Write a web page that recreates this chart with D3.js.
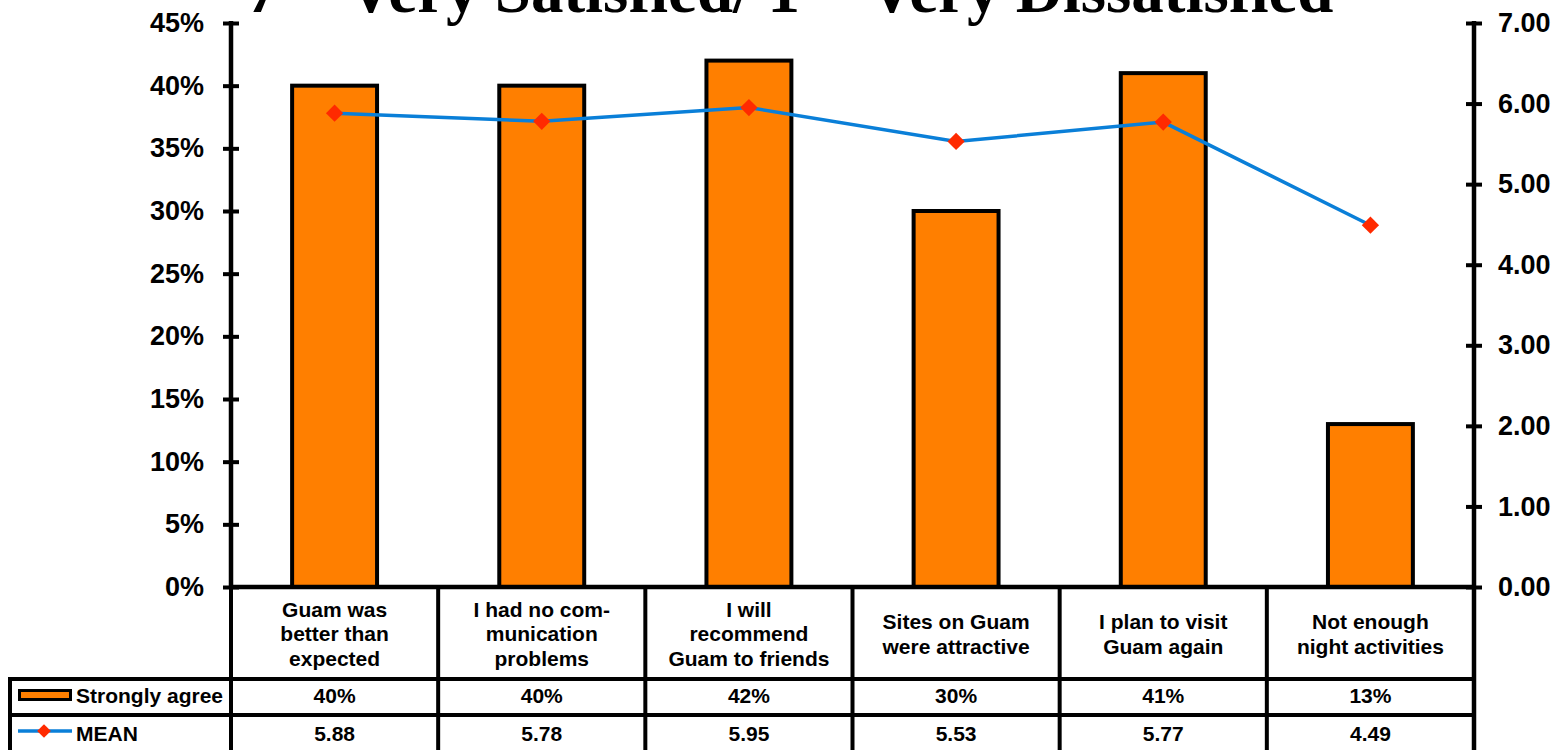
<!DOCTYPE html>
<html>
<head>
<meta charset="utf-8">
<script src="https://cdn.jsdelivr.net/npm/d3@7"></script>
<style>
  body { margin: 0; background: #fff; }
  svg { display: block; }
</style>
</head>
<body>
<svg id="drawing_region"></svg>
<script>
// chart data
const categories = [
    ["Guam was", "better than", "expected"],
    ["I had no com-", "munication", "problems"],
    ["I will", "recommend", "Guam to friends"],
    ["Sites on Guam", "were attractive"],
    ["I plan to visit", "Guam again"],
    ["Not enough", "night activities"]
];
const strongly_agree = [0.40, 0.40, 0.42, 0.30, 0.41, 0.13];
const mean_values = [5.88, 5.78, 5.95, 5.53, 5.77, 4.49];
const left_ticks = [0, 0.05, 0.10, 0.15, 0.20, 0.25, 0.30, 0.35, 0.40, 0.45];
const right_ticks = [0, 1, 2, 3, 4, 5, 6, 7];
const title_text = "7 = Very Satisfied/ 1 = Very Dissatisfied";

const config = {
    width: 1564,
    height: 750,
    left: 231,
    right: 1474,
    top: 23,
    bottom: 587
};

const svg = d3.select('#drawing_region')
    .attr('width', config.width)
    .attr('height', config.height);

const xscale = d3.scaleBand()
    .domain(d3.range(categories.length))
    .range([config.left, config.right])
    .paddingInner(0.59)
    .paddingOuter(0.295);
const band = d3.scaleBand()
    .domain(d3.range(categories.length))
    .range([config.left, config.right]);

const yleft = d3.scaleLinear().domain([0, 0.45]).range([config.bottom, config.top]);
const yright = d3.scaleLinear().domain([0, 7]).range([config.bottom, config.top]);

// title (cut off at the top like the original)
svg.append('text')
    .attr('x', 790)
    .attr('y', 12)
    .attr('text-anchor', 'middle')
    .attr('font-family', '"Liberation Serif", "Times New Roman", serif')
    .attr('font-weight', 'bold')
    .attr('font-size', 65)
    .text(title_text);

// bars
svg.append('g').selectAll('rect')
    .data(strongly_agree)
    .join('rect')
    .attr('x', (d, i) => xscale(i))
    .attr('y', d => yleft(d))
    .attr('width', xscale.bandwidth())
    .attr('height', d => yleft(0) - yleft(d))
    .attr('fill', '#FF7F00')
    .attr('stroke', 'black')
    .attr('stroke-width', 4);

// axes
const axisFont = g => g.selectAll('text')
    .attr('font-family', '"Liberation Sans", Arial, sans-serif')
    .attr('font-weight', 'bold')
    .attr('font-size', 27)
    .attr('fill', 'black');

const left_axis = d3.axisLeft(yleft)
    .tickValues(left_ticks)
    .tickFormat(d3.format('.0%'))
    .tickSize(0)
    .tickPadding(27);
const lg = svg.append('g')
    .attr('transform', `translate(${config.left},0)`)
    .call(left_axis);
lg.select('.domain').remove();
lg.call(axisFont);
lg.selectAll('.tick').append('line')
    .attr('x1', -8).attr('x2', 8)
    .attr('stroke', 'black').attr('stroke-width', 4);
lg.append('line')
    .attr('y1', config.top - 2).attr('y2', config.bottom)
    .attr('stroke', 'black').attr('stroke-width', 4.5);

const right_axis = d3.axisRight(yright)
    .tickValues(right_ticks)
    .tickFormat(d3.format('.2f'))
    .tickSize(0)
    .tickPadding(24);
const rg = svg.append('g')
    .attr('transform', `translate(${config.right},0)`)
    .call(right_axis);
rg.select('.domain').remove();
rg.call(axisFont);
rg.selectAll('.tick').append('line')
    .attr('x1', -8).attr('x2', 8)
    .attr('stroke', 'black').attr('stroke-width', 4);
rg.append('line')
    .attr('y1', config.top - 2).attr('y2', config.height)
    .attr('stroke', 'black').attr('stroke-width', 4.5);

// baseline
svg.append('line')
    .attr('x1', config.left).attr('x2', config.right)
    .attr('y1', config.bottom).attr('y2', config.bottom)
    .attr('stroke', 'black').attr('stroke-width', 4.5);

// mean line
const line = d3.line()
    .x((d, i) => band(i) + band.bandwidth() / 2)
    .y(d => yright(d));
svg.append('path')
    .attr('d', line(mean_values))
    .attr('fill', 'none')
    .attr('stroke', '#0A7FD8')
    .attr('stroke-width', 3.5);
svg.append('g').selectAll('path')
    .data(mean_values)
    .join('path')
    .attr('d', d3.symbol(d3.symbolDiamond2, 190))
    .attr('transform', (d, i) => `translate(${band(i) + band.bandwidth() / 2},${yright(d)})`)
    .attr('fill', '#FF2A00');

// data table
const table = svg.append('g')
    .attr('font-family', '"Liberation Sans", Arial, sans-serif')
    .attr('font-weight', 'bold')
    .attr('font-size', 21)
    .attr('fill', 'black');
const row_top = config.bottom, row1 = 679, row2 = 715, row_end = 753;
const tline = (x1, y1, x2, y2) => table.append('line')
    .attr('x1', x1).attr('y1', y1).attr('x2', x2).attr('y2', y2)
    .attr('stroke', 'black').attr('stroke-width', 4);

// vertical cell borders
d3.range(categories.length + 1).forEach(i => {
    const x = i < categories.length ? band(i) : config.right;
    tline(x, row_top, x, row_end);
});
tline(10, row1 - 2, 10, row_end);
tline(8, row1, config.right, row1);
tline(10, row2, config.right, row2);

// category labels
categories.forEach((lines, i) => {
    const cx = band(i) + band.bandwidth() / 2;
    const cy = (row_top + row1) / 2 + 1;
    const lh = 24.5;
    lines.forEach((t, j) => {
        table.append('text')
            .attr('x', cx)
            .attr('y', cy + (j - (lines.length - 1) / 2) * lh)
            .attr('dy', '0.35em')
            .attr('text-anchor', 'middle')
            .text(t);
    });
});

// value rows
strongly_agree.forEach((d, i) => {
    table.append('text')
        .attr('x', band(i) + band.bandwidth() / 2)
        .attr('y', 703)
        .attr('text-anchor', 'middle')
        .text(d3.format('.0%')(d));
});
mean_values.forEach((d, i) => {
    table.append('text')
        .attr('x', band(i) + band.bandwidth() / 2)
        .attr('y', 741)
        .attr('text-anchor', 'middle')
        .text(d3.format('.2f')(d));
});

// legend keys
table.append('rect')
    .attr('x', 19.5).attr('y', 690.5).attr('width', 51).attr('height', 9)
    .attr('fill', '#FF7F00').attr('stroke', 'black').attr('stroke-width', 3);
table.append('text')
    .attr('x', 76).attr('y', 703)
    .text('Strongly agree');
table.append('line')
    .attr('x1', 18).attr('x2', 72).attr('y1', 731).attr('y2', 731)
    .attr('stroke', '#0A7FD8').attr('stroke-width', 3.5);
table.append('path')
    .attr('d', d3.symbol(d3.symbolDiamond2, 120))
    .attr('transform', 'translate(44,731)')
    .attr('fill', '#FF2A00');
table.append('text')
    .attr('x', 76).attr('y', 741)
    .text('MEAN');
</script>
</body>
</html>
